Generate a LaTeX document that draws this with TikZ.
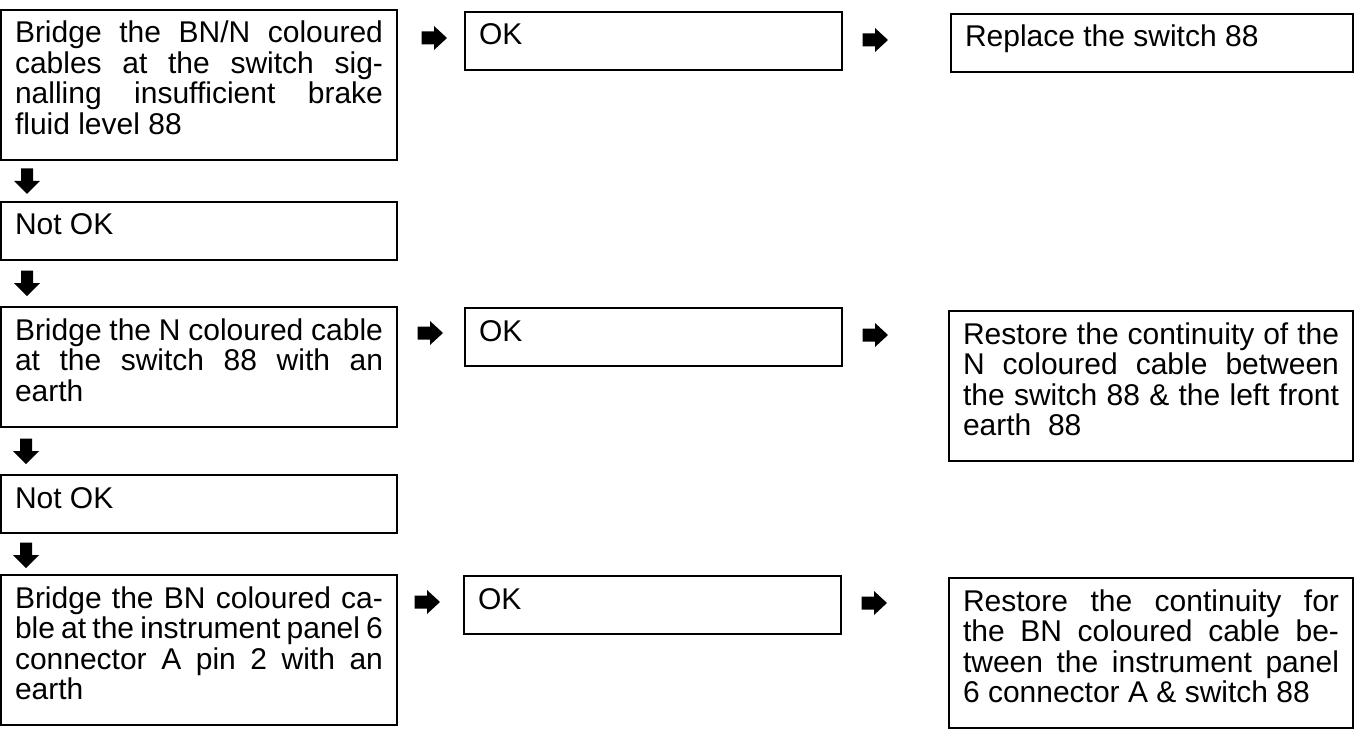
\documentclass[tikz,border=0pt]{standalone}
\usepackage{fontspec}
\setmainfont{Liberation Sans}
\newcommand{\jl}[1]{\noindent\makebox[\linewidth][s]{#1}\par}
\newcommand{\bx}[2]{\parbox[t]{#1}{\parindent=0pt #2}}
\tikzset{
  box/.style={draw, line width=1.5pt, anchor=north west, inner xsep=14pt, inner ysep=0pt,
    outer sep=0pt, text height=33pt, font=\fontsize{30}{30.5}\selectfont},
  oneline/.style={box, text depth=25pt},
  threeline/.style={box, text depth=87pt},
  fourline/.style={box, text depth=117pt},
  rarrow/.pic={\fill (-12.5,-6.5)--(0,-6.5)--(0,-12)--(13,0)--(0,12)--(0,6.5)--(-12.5,6.5)--cycle;},
  darrow/.pic={\fill (-6,-12.5)--(6,-12.5)--(6,0)--(13,0)--(0,13)--(-13,0)--(-6,0)--cycle;}
}
\begin{document}
\begin{tikzpicture}[x=1pt,y=-1pt]
\useasboundingbox (0,0) rectangle (1360,730);
% left column
\node[fourline] (b1) at (1,10) {\bx{368pt}{%
  \jl{Bridge the BN/N coloured}
  \jl{cables at the switch sig-}
  \jl{nalling insufficient brake}
  fluid level 88}};
\node[oneline] (n1) at (1,202) {\bx{368pt}{Not OK}};
\node[threeline] (b2) at (1,307) {\bx{368pt}{%
  \jl{Bridge the N coloured cable}
  \jl{at the switch 88 with an}
  earth}};
\node[oneline] (n2) at (1,475) {\bx{368pt}{Not OK}};
\node[fourline] (b3) at (1,575) {\bx{368pt}{%
  \jl{Bridge the BN coloured ca-}
  \jl{ble at the instrument panel 6}
  \jl{connector A pin 2 with an}
  earth}};
% middle column
\node[oneline] (ok1) at (465,12) {\bx{349pt}{OK}};
\node[oneline] (ok2) at (465,308) {\bx{349pt}{OK}};
\node[oneline] (ok3) at (464,576) {\bx{349pt}{OK}};
% right column
\node[oneline] (r1) at (951,14) {\bx{374pt}{Replace the switch 88}};
\node[fourline] (r2) at (949,311) {\bx{376pt}{%
  \jl{Restore the continuity of the}
  \jl{N coloured cable between}
  \jl{the switch 88 \& the left front}
  earth\ \ 88}};
\node[fourline] (r3) at (949,578) {\bx{376pt}{%
  \jl{Restore the continuity for}
  \jl{the BN coloured cable be-}
  \jl{tween the instrument panel}
  6 connector A \& switch 88}};
% arrows
\pic at (434,38) {rarrow};
\pic at (875,40) {rarrow};
\pic at (430,333) {rarrow};
\pic at (875,335) {rarrow};
\pic at (427,602) {rarrow};
\pic at (874,603) {rarrow};
\pic at (27,181) {darrow};
\pic at (27,283) {darrow};
\pic at (26,451) {darrow};
\pic at (26,555) {darrow};
\end{tikzpicture}
\end{document}
